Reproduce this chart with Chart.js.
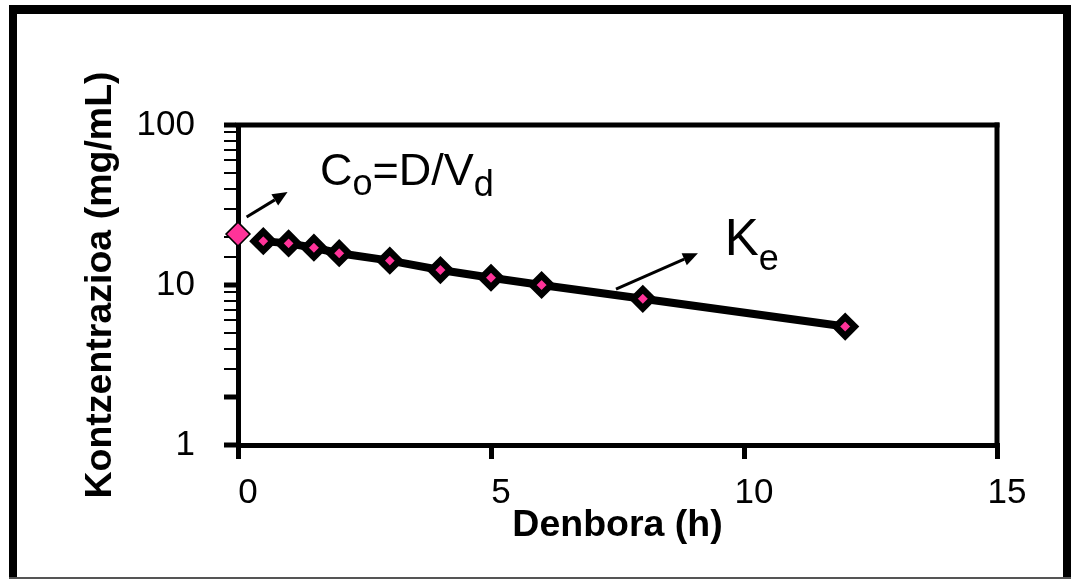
<!DOCTYPE html>
<html><head><meta charset="utf-8">
<style>html,body{margin:0;padding:0;background:#fff;}#wrap{width:1072px;height:579px;position:relative;}</style>
<script src="https://cdn.jsdelivr.net/npm/chart.js@4.4.1/dist/chart.umd.min.js"></script>
</head><body><div id="wrap"><canvas id="c" width="1072" height="579"></canvas></div>
<script>
// ---- data ----
const hours = [0.5, 1, 1.5, 2, 3, 4, 5, 6, 8, 12];
const concentration = [18.8, 18.2, 17.1, 15.8, 14.2, 12.4, 11.1, 10.0, 8.2, 5.5];
const initialHour = [0];
const initialConcentration = [20.8];
const xTickValues = [0, 5, 10, 15];
const yMajorTicks = [1, 10, 100];
const xTitle = 'Denbora (h)';
const yTitle = 'Kontzentrazioa (mg/mL)';
// annotation anchors in data units: [x, y]
const c0Label = {main1: 'C', sub1: 'o', main2: '=D/V', sub2: 'd', at: [1.62, 42.2]};
const keLabel = {main1: 'K', sub1: 'e', at: [9.62, 15.4]};
const arrows = [
  {from: [0.17, 26.6], to: [0.98, 38.1]},
  {from: [7.47, 9.44], to: [9.09, 15.8]}
];

const FONT = "'Liberation Sans', Arial, sans-serif";
const PINK = '#ff3399';

const mainData = hours.map((h, i) => ({x: h, y: concentration[i]}));
const initData = initialHour.map((h, i) => ({x: h, y: initialConcentration[i]}));

const decorPlugin = {
  id: 'decor',
  beforeDatasetsDraw(chart) {
    const {ctx, chartArea: a} = chart;
    ctx.save();
    ctx.fillStyle = '#000';
    ctx.fillRect(a.left - 2.5, a.top - 2.5, a.right - a.left + 5, 5);
    ctx.fillRect(a.right - 2.5, a.top - 2.5, 5, a.bottom - a.top + 5);
    ctx.restore();
  },
  afterDraw(chart) {
    const {ctx, scales: {x, y}} = chart;
    ctx.save();
    // outer frame
    ctx.fillStyle = '#000';
    ctx.fillRect(9, 5, 1062, 9);
    ctx.fillRect(9, 5, 8, 574);
    ctx.fillRect(1063, 5, 8, 574);
    ctx.fillStyle = '#555';
    ctx.fillRect(9, 577, 1062, 2);
    // arrows
    ctx.strokeStyle = '#000';
    ctx.fillStyle = '#000';
    ctx.lineWidth = 3;
    arrows.forEach(ar => {
      const x0 = x.getPixelForValue(ar.from[0]), y0 = y.getPixelForValue(ar.from[1]);
      const x1 = x.getPixelForValue(ar.to[0]), y1 = y.getPixelForValue(ar.to[1]);
      const ang = Math.atan2(y1 - y0, x1 - x0);
      const hl = 15, hw = 6.5;
      const bx = x1 - hl * Math.cos(ang), by = y1 - hl * Math.sin(ang);
      ctx.beginPath();
      ctx.moveTo(x0, y0); ctx.lineTo(bx, by); ctx.stroke();
      ctx.beginPath();
      ctx.moveTo(x1, y1);
      ctx.lineTo(bx + hw * Math.sin(ang), by - hw * Math.cos(ang));
      ctx.lineTo(bx - hw * Math.sin(ang), by + hw * Math.cos(ang));
      ctx.closePath(); ctx.fill();
    });
    // labels with subscripts
    ctx.textBaseline = 'alphabetic';
    ctx.textAlign = 'left';
    function run(parts, px, py) {
      let cx = px;
      parts.forEach(p => {
        ctx.font = p.size + 'px ' + FONT;
        ctx.fillText(p.t, cx, py + p.dy);
        cx += ctx.measureText(p.t).width;
      });
    }
    run([
      {t: c0Label.main1, size: 45, dy: 0},
      {t: c0Label.sub1, size: 36, dy: 10},
      {t: c0Label.main2, size: 45, dy: 0},
      {t: c0Label.sub2, size: 36, dy: 11}
    ], x.getPixelForValue(c0Label.at[0]), y.getPixelForValue(c0Label.at[1]));
    run([
      {t: keLabel.main1, size: 51, dy: 0},
      {t: keLabel.sub1, size: 36, dy: 15}
    ], x.getPixelForValue(keLabel.at[0]), y.getPixelForValue(keLabel.at[1]));
    ctx.restore();
  }
};

new Chart(document.getElementById('c'), {
  type: 'scatter',
  data: {
    datasets: [
      {
        label: 'Kontzentrazioa',
        data: mainData,
        showLine: true,
        borderColor: '#000',
        borderWidth: 8,
        backgroundColor: PINK,
        pointStyle: 'rectRot',
        pointRadius: 9.5,
        pointBorderWidth: 6.5,
        pointBorderColor: '#000',
        pointBackgroundColor: PINK,
        clip: false
      },
      {
        label: 'C0',
        data: initData,
        showLine: false,
        pointStyle: 'rectRot',
        pointRadius: 12,
        pointBorderWidth: 1.5,
        pointBorderColor: '#000',
        pointBackgroundColor: PINK,
        clip: false
      }
    ]
  },
  options: {
    responsive: false,
    animation: false,
    devicePixelRatio: 1,
    layout: {padding: {top: 125, right: 75, left: 0, bottom: 0}},
    plugins: {legend: {display: false}, tooltip: {enabled: false}},
    scales: {
      x: {
        type: 'linear', min: 0, max: 15,
        afterBuildTicks(scale) { scale.ticks = xTickValues.map(v => ({value: v})); },
        afterFit(scale) { scale.height = 134; },
        ticks: {color: '#000', font: {family: FONT, size: 35}, padding: 13, labelOffset: 10, maxRotation: 0, autoSkip: false},
        grid: {display: true, drawOnChartArea: false, drawTicks: true, tickLength: 14, tickWidth: 5, lineWidth: 5, tickColor: '#000', color: '#000'},
        border: {display: true, color: '#000', width: 5},
        title: {display: true, text: xTitle, color: '#000', font: {family: FONT, size: 37.5, weight: 'bold'}, padding: {top: 0, bottom: 31}}
      },
      y: {
        type: 'logarithmic', min: 1, max: 100,
        afterFit(scale) { scale.width = 238; },
        ticks: {
          color: '#000', font: {family: FONT, size: 35}, padding: 29, autoSkip: false,
          callback: v => yMajorTicks.includes(v) ? String(v) : ''
        },
        grid: {
          display: true, drawOnChartArea: false, drawTicks: true, tickLength: 14,
          tickWidth: ctx => { const v = ctx.tick ? ctx.tick.value : 0; return (yMajorTicks.includes(v) || v === 2) ? 5 : 2; },
          lineWidth: 2, tickColor: '#000', color: '#000'
        },
        border: {display: true, color: '#000', width: 5},
        title: {display: true, text: yTitle, color: '#000', font: {family: FONT, size: 37.5, weight: 'bold'}, padding: {top: 78, bottom: 0}}
      }
    }
  },
  plugins: [decorPlugin]
});
</script>
</body></html>
